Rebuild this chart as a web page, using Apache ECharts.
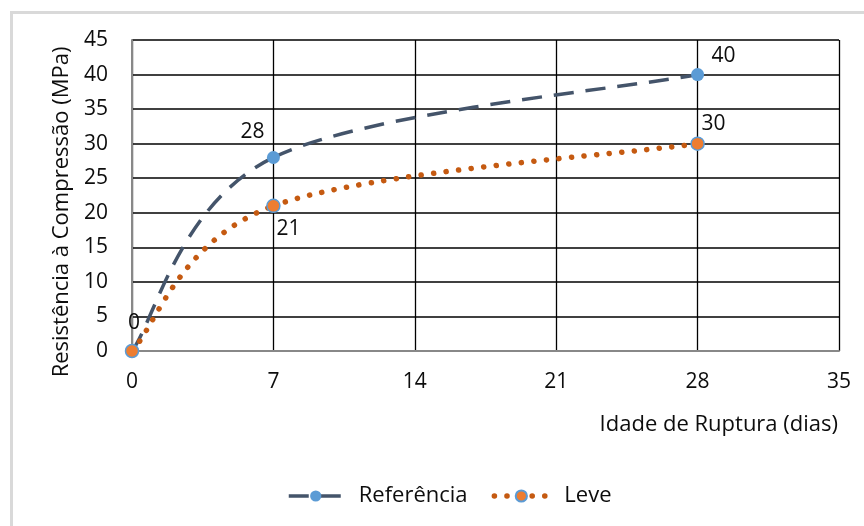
<!DOCTYPE html>
<html>
<head>
<meta charset="utf-8">
<script src="https://cdn.jsdelivr.net/npm/echarts@6/dist/echarts.min.js"></script>
<style>
  html, body { margin: 0; padding: 0; background: #fff; }
  #chart { width: 864px; height: 526px; }
</style>
</head>
<body>
<div id="chart"></div>
<script>
// Compressive strength versus curing age
const ages = [0, 7, 28];
const referencia = [0, 28, 40];
const leve = [0, 21, 30];
const xTicks = [0, 7, 14, 21, 28, 35];
const yTicks = [0, 5, 10, 15, 20, 25, 30, 35, 40, 45];

const FONT = '"Open Sans", Lato, sans-serif';
const TXT = '#0d0d0d';

const REF_LINE = { color: '#44546A', width: 3.5, type: [20, 12], cap: 'butt' };
const LEVE_LINE = { color: '#C55A11', width: 5.5, type: [0.1, 12.5], cap: 'round' };

const toPairs = (xs, ys) => xs.map((x, i) => [x, ys[i]]);

// Catmull-Rom style smoothed segment from point i to point i+1,
// control points derived from neighbouring points in pixel space.
function splineSegment(xs, ys, lineStyle) {
  return function (params, api) {
    const i = params.dataIndex;
    const n = xs.length;
    if (i >= n - 1) return null;
    const clampIdx = k => Math.max(0, Math.min(n - 1, k));
    const pt = k => api.coord([xs[clampIdx(k)], ys[clampIdx(k)]]);
    const p0 = pt(i - 1), p1 = pt(i), p2 = pt(i + 1), p3 = pt(i + 2);
    return {
      type: 'bezierCurve',
      shape: {
        x1: p1[0], y1: p1[1],
        x2: p2[0], y2: p2[1],
        cpx1: p1[0] + (p2[0] - p0[0]) / 6,
        cpy1: p1[1] + (p2[1] - p0[1]) / 6,
        cpx2: p2[0] - (p3[0] - p1[0]) / 6,
        cpy2: p2[1] - (p3[1] - p1[1]) / 6
      },
      style: {
        fill: null,
        stroke: lineStyle.color,
        lineWidth: lineStyle.width,
        lineDash: lineStyle.type,
        lineCap: lineStyle.cap
      },
      silent: true
    };
  };
}

const chart = echarts.init(document.getElementById('chart'));

chart.setOption({
  animation: false,
  backgroundColor: '#fff',
  textStyle: { fontFamily: FONT },
  grid: { left: 132, right: 25, top: 40, bottom: 175, containLabel: false },
  graphic: [
    {
      type: 'rect',
      shape: { x: 11.5, y: 12.5, width: 900, height: 600 },
      style: { fill: 'none', stroke: '#d9d9d9', lineWidth: 3 },
      silent: true
    },
    {
      type: 'text',
      x: 62, y: 212,
      rotation: Math.PI / 2,
      style: {
        text: 'Resistência à Compressão (MPa)',
        font: '22px ' + FONT,
        fill: TXT,
        align: 'center',
        verticalAlign: 'middle'
      },
      silent: true
    },
    {
      type: 'text',
      x: 838, y: 425,
      style: {
        text: 'Idade de Ruptura (dias)',
        font: '22px ' + FONT,
        fill: TXT,
        align: 'right',
        verticalAlign: 'middle'
      },
      silent: true
    }
  ],
  xAxis: {
    type: 'value',
    min: xTicks[0],
    max: xTicks[xTicks.length - 1],
    interval: 7,
    axisLine: { show: true, onZero: false, lineStyle: { color: '#888', width: 2 } },
    axisTick: { show: false },
    axisLabel: { margin: 21, fontFamily: FONT, fontSize: 21, color: TXT },
    splitLine: { show: true, lineStyle: { color: '#000', width: 1.3 } }
  },
  yAxis: {
    type: 'value',
    min: yTicks[0],
    max: yTicks[yTicks.length - 1],
    interval: 5,
    axisLine: { show: true, lineStyle: { color: '#888', width: 2 } },
    axisTick: { show: false },
    axisLabel: { margin: 24, fontFamily: FONT, fontSize: 21, color: TXT },
    splitLine: { show: true, lineStyle: { color: '#000', width: 1.6 } }
  },
  legend: {
    top: 480,
    left: 282,
    itemWidth: 54,
    itemHeight: 14,
    itemGap: 24,
    textStyle: { fontFamily: FONT, fontSize: 22, color: TXT, padding: [0, 0, 0, 11] },
    data: [
      { name: 'Referência', lineStyle: Object.assign({ opacity: 1 }, REF_LINE) },
      { name: 'Leve', lineStyle: Object.assign({ opacity: 1 }, LEVE_LINE) }
    ]
  },
  series: [
    {
      type: 'custom',
      data: toPairs(ages, referencia),
      renderItem: splineSegment(ages, referencia, REF_LINE),
      encode: { x: 0, y: 1 },
      z: 2
    },
    {
      type: 'custom',
      data: toPairs(ages, leve),
      renderItem: splineSegment(ages, leve, LEVE_LINE),
      encode: { x: 0, y: 1 },
      z: 2
    },
    {
      name: 'Referência',
      type: 'line',
      data: toPairs(ages, referencia),
      symbol: 'circle',
      symbolSize: 13,
      itemStyle: { color: '#5B9BD5' },
      lineStyle: Object.assign({ opacity: 0 }, REF_LINE),
      label: {
        show: true,
        fontFamily: FONT, fontSize: 21, color: TXT,
        formatter: p => String(p.value[1]),
        position: 'top'
      },
      labelLayout: p => {
        const i = p.dataIndex;
        if (i === 0) return { dx: 2, dy: -6 };
        if (i === 1) return { dx: -21, dy: -3 };
        return { dx: 26, dy: 3 };
      },
      z: 3
    },
    {
      name: 'Leve',
      type: 'line',
      data: toPairs(ages, leve),
      symbol: 'circle',
      symbolSize: 13,
      itemStyle: { color: '#ED7D31', borderColor: '#5B9BD5', borderWidth: 1.5 },
      lineStyle: Object.assign({ opacity: 0 }, LEVE_LINE),
      label: {
        show: true,
        fontFamily: FONT, fontSize: 21, color: TXT,
        formatter: p => (p.dataIndex === 0 ? '' : String(p.value[1])),
        position: 'top'
      },
      labelLayout: p => {
        const i = p.dataIndex;
        if (i === 1) return { dx: 15, dy: 46 };
        return { dx: 16, dy: 3 };
      },
      z: 4
    }
  ]
});
</script>
</body>
</html>
